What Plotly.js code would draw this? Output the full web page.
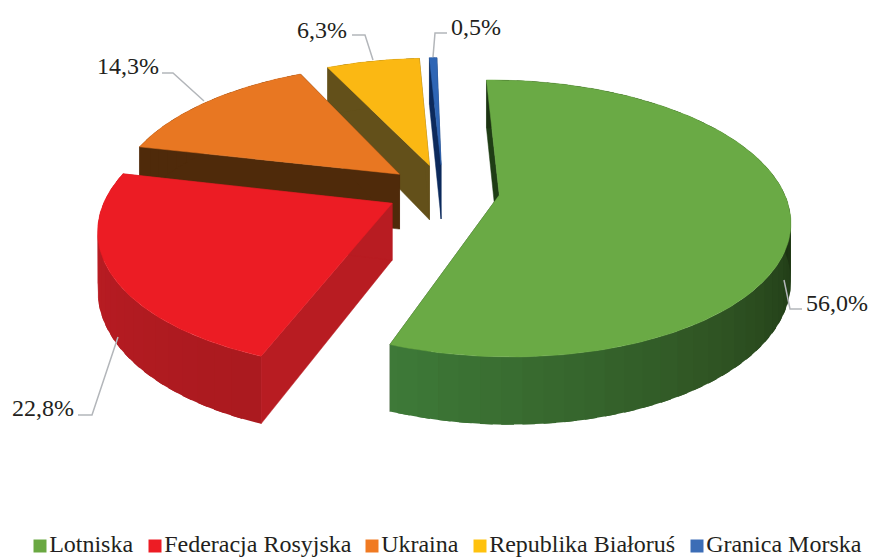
<!DOCTYPE html>
<html><head><meta charset="utf-8">
<script src="https://cdn.plot.ly/plotly-3.0.1.min.js"></script>
<style>html,body{margin:0;padding:0;background:#fff}</style></head>
<body><div id="chart" style="width:871px;height:558px"></div>
<script>
const categories = ["Lotniska","Federacja Rosyjska","Ukraina","Republika Białoruś","Granica Morska"];
const shares = [56.0,22.8,14.3,6.3,0.5];
const topColors = ["#6aaa45","#ec1c24","#e87722","#fbb813","#2f66b5"];
const legendColors = ["#6aa842","#ed1c24","#f07a22","#ffc20e","#3c6db6"];
const radialWall = ["#1f3d15","#b81c22","#4f2a0a","#63501a","#0c2a5c"];
const legendX = [40,155,372,480,697];
const labelX = [805,11,96,296,450];
const labelY = [303,408,66,30,27];
const leaderX = [[784,790,802],[118,92,78],[204,173,162],[373,365,352],[433,435,447]];
const leaderY = [[280,309,309],[337,415,415],[101,73,73],[60,35,35],[57,33,33]];

// projection of the tilted pie
const CX=443, CY=190.5, R=284, RT=133, K=0.168, H=56, PULL=0.2, ROT=-1.1*Math.PI/180;
function proj(X,Y,z){const w=1+K*Y;return [CX+R*X/w, CY-RT*Y/w+(z?H/w:0)];}
const total=shares.reduce((a,b)=>a+b,0);
function hex(c){return [1,3,5].map(i=>parseInt(c.substr(i,2),16));}
function mix(a,b,t){const A=hex(a),B=hex(b);return "rgb("+A.map((v,i)=>Math.round(v+(B[i]-v)*t)).join(",")+")";}
function rimShade(i,th){
  const d=th*180/Math.PI;
  if(i===0){
    if(d>140) return mix("#2f5423","#3e7a38",(d-140)/60);
    return mix("#1c3312","#2f5423",Math.max(0,(d-90)/50));
  }
  if(i===1) return mix("#ab1a1f","#c01d25",Math.min(1,Math.max(0,(d-205)/80)));
  return radialWall[i];
}
const slices=[];let acc=0;
shares.forEach((v,i)=>{const a=ROT+acc/total*2*Math.PI;acc+=v;const b=ROT+acc/total*2*Math.PI;
  const m=(a+b)/2;slices.push({i,a,b,ox:PULL*Math.sin(m),oy:PULL*Math.cos(m)});});

function poly(pts,color,extra){
  const x=pts.map(p=>p[0]).concat(pts[0][0]),y=pts.map(p=>p[1]).concat(pts[0][1]);
  return Object.assign({type:"scatter",mode:"lines",x,y,fill:"toself",fillcolor:color,
    line:{color:color,width:0.5},hoverinfo:"skip",showlegend:false},extra||{});
}
const traces=[];
[4,3,2,0,1].forEach(idx=>{
  const s=slices[idx];
  const rim=(t,z)=>proj(s.ox+Math.sin(t),s.oy+Math.cos(t),z);
  const apex=z=>proj(s.ox,s.oy,z);
  // radial walls
  [s.a,s.b].forEach(t=>{
    traces.push(poly([apex(0),rim(t,0),rim(t,1),apex(1)],radialWall[idx]));
  });
  // rim wall bands, painted with overlap so no seams show
  const N=Math.max(2,Math.ceil((s.b-s.a)/(Math.PI/50)));
  for(let k=N-1;k>=0;k--){
    const t0=s.a+(s.b-s.a)*k/N,t1=Math.min(s.b,s.a+(s.b-s.a)*(k+1.6)/N);
    const pts=[];
    for(let q=0;q<=4;q++)pts.push(rim(t0+(t1-t0)*q/4,0));
    for(let q=4;q>=0;q--)pts.push(rim(t0+(t1-t0)*q/4,1));
    traces.push(poly(pts,rimShade(idx,(t0+t1)/2),{line:{width:0}}));
  }
  // top face
  const top=[apex(0)];
  for(let k=0;k<=120;k++){top.push(rim(s.a+(s.b-s.a)*k/120,0));}
  traces.push(poly(top,topColors[idx],{name:categories[idx]}));
});
// leader lines
leaderX.forEach((lx,i)=>traces.push({type:"scatter",mode:"lines",x:lx,y:leaderY[i],
  line:{color:"#b3b6ba",width:1.5},hoverinfo:"skip",showlegend:false}));
// legend keys and names
categories.forEach((c,i)=>traces.push({type:"scatter",mode:"markers+text",x:[legendX[i]],y:[546],
  marker:{symbol:"square",size:13,color:legendColors[i]},text:[c],textposition:"middle right",
  textfont:{family:"Liberation Serif",size:24,color:"#231f20"},name:c,hoverinfo:"skip",showlegend:false,cliponaxis:false}));

const annotations=shares.map((v,i)=>({xref:"x",yref:"y",x:labelX[i],y:labelY[i],xanchor:"left",yanchor:"middle",
  showarrow:false,text:v.toFixed(1).replace(".",",")+"%",
  font:{family:"Liberation Serif",size:24,color:"#231f20"},borderpad:0}));

Plotly.newPlot("chart",traces,{
  width:871,height:558,autosize:false,margin:{l:0,r:0,t:0,b:0},showlegend:false,
  paper_bgcolor:"#fff",plot_bgcolor:"#fff",
  xaxis:{range:[0,871],visible:false,fixedrange:true},
  yaxis:{range:[558,0],visible:false,fixedrange:true},
  annotations
},{displayModeBar:false,staticPlot:true});
</script></body></html>
